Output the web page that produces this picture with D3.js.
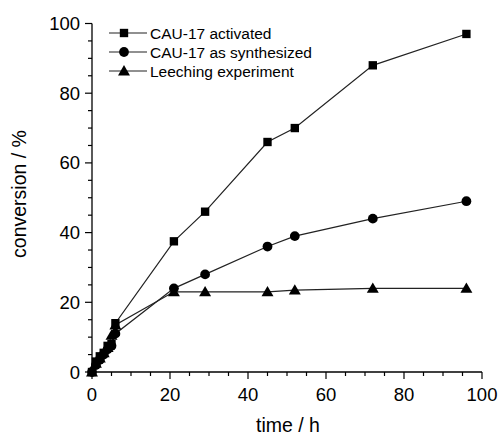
<!DOCTYPE html>
<html><head><meta charset="utf-8">
<script src="https://cdn.jsdelivr.net/npm/d3@7"></script>
<style>body{margin:0;background:#fff}svg{display:block}text{font-family:"Liberation Sans",Arial,sans-serif;fill:#000}</style>
</head><body><svg id="c" width="499" height="436"></svg>
<script>
const seriesNames = ["CAU-17 activated","CAU-17 as synthesized","Leeching experiment"];
const timeH = [0,1,2,3,4,5,6,21,29,45,52,72,96];
const activated = [0,3,4.5,5.5,7.5,8,14,37.5,46,66,70,88,97];
const asSynth = [0,2,3.5,5,6.5,7.5,11,24,28,36,39,44,49];
const leeching = [0,2.5,4,5.5,7,10.5,13.5,23,23,23,23.5,24,24];
const xTicks = [0,20,40,60,80,100];
const yTicks = [0,20,40,60,80,100];

const svg = d3.select("#c");
const x = d3.scaleLinear().domain([0,100]).range([92,482]);
const y = d3.scaleLinear().domain([0,100]).range([372,23.5]);

function axisBottom(){
  const g = svg.append("g");
  g.append("line").attr("x1",x(0)).attr("x2",x(100)).attr("y1",y(0)).attr("y2",y(0)).attr("stroke","#000").attr("stroke-width",1.3);
  d3.range(0,101,5).forEach(v=>{
    const major = v%20===0;
    g.append("line").attr("x1",x(v)).attr("x2",x(v)).attr("y1",y(0)).attr("y2",y(0)+(major?7:4)).attr("stroke","#000").attr("stroke-width",1.2);
  });
  xTicks.forEach(v=>g.append("text").attr("x",x(v)).attr("y",y(0)+29).attr("text-anchor","middle").attr("font-size",18.5).text(v));
}
function axisLeft(){
  const g = svg.append("g");
  g.append("line").attr("x1",x(0)).attr("x2",x(0)).attr("y1",y(0)).attr("y2",y(100)).attr("stroke","#000").attr("stroke-width",1.3);
  d3.range(0,101,5).forEach(v=>{
    const major = v%20===0;
    g.append("line").attr("x1",x(0)).attr("x2",x(0)-(major?7:4)).attr("y1",y(v)).attr("y2",y(v)).attr("stroke","#000").attr("stroke-width",1.2);
  });
  yTicks.forEach(v=>g.append("text").attr("x",x(0)-12).attr("y",y(v)+6.5).attr("text-anchor","end").attr("font-size",18.5).text(v));
}
axisBottom(); axisLeft();

svg.append("text").attr("x",288).attr("y",432).attr("text-anchor","middle").attr("font-size",19.5).text("time / h");
svg.append("text").attr("transform","translate(26,194) rotate(-90)").attr("text-anchor","middle").attr("font-size",19.5).text("conversion / %");

const line = d3.line().x(d=>x(d[0])).y(d=>y(d[1]));
const all = [activated, asSynth, leeching];
const syms = [d3.symbolSquare, d3.symbolCircle, d3.symbolTriangle];
const sizes = [70, 75, 62];
all.forEach((vals,i)=>{
  const pts = timeH.map((t,j)=>[t,vals[j]]);
  svg.append("path").attr("d",line(pts)).attr("fill","none").attr("stroke","#222").attr("stroke-width",1.2);
});
all.forEach((vals,i)=>{
  const sym = d3.symbol().type(syms[i]).size(sizes[i]);
  timeH.forEach((t,j)=>{
    svg.append("path").attr("d",sym()).attr("transform",`translate(${x(t)},${y(vals[j])+(i===2?1:0)})`).attr("fill","#000");
  });
});

// legend
const legY = [33,52,71];
seriesNames.forEach((n,i)=>{
  const g = svg.append("g");
  g.append("line").attr("x1",109).attr("x2",147).attr("y1",legY[i]).attr("y2",legY[i]).attr("stroke","#222").attr("stroke-width",1.2);
  g.append("path").attr("d",d3.symbol().type(syms[i]).size(sizes[i])()).attr("transform",`translate(124,${legY[i]+(i===2?1:0)})`).attr("fill","#000");
  g.append("text").attr("x",150).attr("y",legY[i]+5.5).attr("font-size",15.5).text(n);
});
</script></body></html>
